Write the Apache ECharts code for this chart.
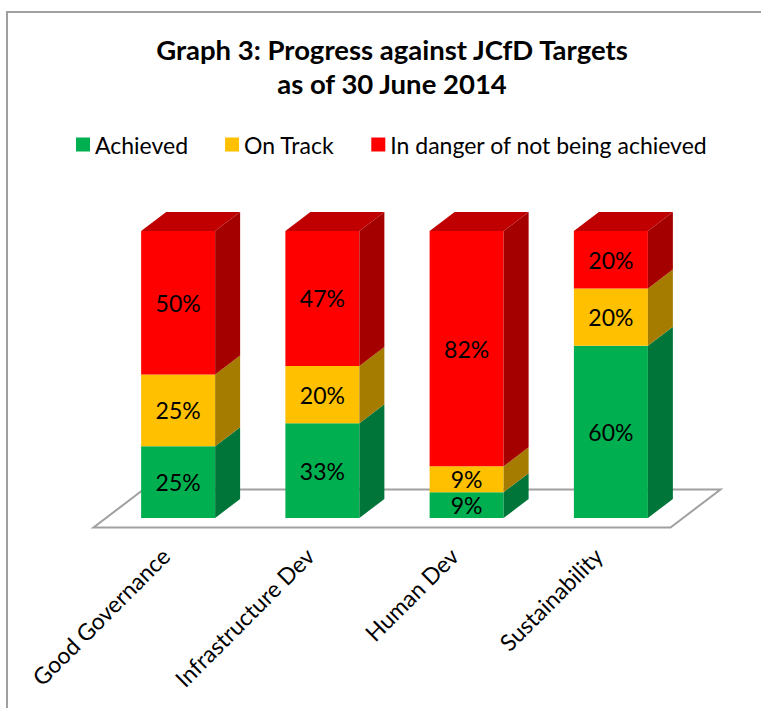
<!DOCTYPE html>
<html>
<head>
<meta charset="utf-8">
<script src="https://cdn.jsdelivr.net/npm/echarts@6/dist/echarts.min.js"></script>
<style>
  html, body { margin: 0; padding: 0; background: #fff; }
  #main { width: 761px; height: 708px; }
</style>
</head>
<body>
<div id="main"></div>
<script>
// data
var categories = ['Good Governance', 'Infrastructure Dev', 'Human Dev', 'Sustainability'];
var achieved = [25, 33, 9, 60];
var onTrack = [25, 20, 9, 20];
var inDanger = [50, 47, 82, 20];
var seriesNames = ['Achieved', 'On Track', 'In danger of not being achieved'];

// look of the 3d bars
var BAR_RATIO = 0.513;
var DX = 25, DY = 19;
var FONT = 'Lato, "Noto Sans", sans-serif';

function stackRows(vals, below) {
    var rows = [];
    for (var i = 0; i < vals.length; i++) {
        var base = 0;
        for (var k = 0; k < below.length; k++) base += below[k][i];
        rows.push([i, base, vals[i]]);
    }
    return rows;
}

function makeRender(front, side, top, isTop) {
    return function (params, api) {
        var i = api.value(0);
        var base = api.value(1), v = api.value(2);
        var p0 = api.coord([i, base]);
        var p1 = api.coord([i, base + v]);
        var bw = api.size([1, 0])[0] * BAR_RATIO;
        var x0 = p0[0] - bw / 2, x1 = p0[0] + bw / 2;
        var yb = p0[1], yt = p1[1];
        var kids = [
            { type: 'rect', shape: { x: x0, y: yt, width: bw, height: yb - yt }, style: { fill: front } },
            { type: 'polygon', shape: { points: [[x1, yb], [x1 + DX, yb - DY], [x1 + DX, yt - DY], [x1, yt]] }, style: { fill: side } }
        ];
        if (isTop) {
            kids.push({ type: 'polygon', shape: { points: [[x0, yt], [x0 + DX, yt - DY], [x1 + DX, yt - DY], [x1, yt]] }, style: { fill: top } });
        }
        kids.push({
            type: 'text',
            style: {
                text: v + '%', x: p0[0], y: (yb + yt) / 2,
                align: 'center', verticalAlign: 'middle',
                fill: '#000', font: '23px ' + FONT
            }
        });
        return { type: 'group', children: kids };
    };
}

// floor under the bars, built from the grid rectangle
function renderFloor(params, api) {
    var cs = params.coordSys;
    var y0 = api.coord([0, 0])[1];
    var fx = -DX / 2, fy = DY / 2, bx = DX * 1.5, by = -DY * 1.5;
    var l = cs.x, r = cs.x + cs.width;
    return {
        type: 'polygon',
        shape: { points: [[l + fx, y0 + fy], [r + fx, y0 + fy], [r + bx, y0 + by], [l + bx, y0 + by]] },
        style: { fill: 'none', stroke: '#A0A0A0', lineWidth: 2 }
    };
}

var myChart = echarts.init(document.getElementById('main'), null, { renderer: 'svg' });
var option = {
    backgroundColor: '#fff',
    animation: false,
    title: {
        text: 'Graph 3: Progress against JCfD Targets\nas of 30 June 2014',
        left: 387,
        top: 27,
        textAlign: 'center',
        textStyle: { fontFamily: FONT, fontWeight: 'bold', fontSize: 27.5, lineHeight: 34, color: '#000' }
    },
    legend: {
        data: seriesNames,
        left: 76,
        top: 133,
        padding: 0,
        icon: 'rect',
        itemWidth: 14,
        itemHeight: 14,
        itemGap: 37,
        textStyle: { fontFamily: FONT, fontSize: 23, color: '#000' }
    },
    graphic: [{
        type: 'rect',
        shape: { x: 7, y: 12, width: 900, height: 900 },
        style: { fill: 'none', stroke: '#A0A0A0', lineWidth: 2 },
        z: -10
    }],
    grid: { left: 106, right: 78, top: 231, bottom: 190 },
    xAxis: {
        type: 'category',
        data: categories,
        axisLine: { show: false },
        axisTick: { show: false },
        axisLabel: {
            rotate: 45, margin: 21, interval: 0, padding: [0, 18, 0, 0],
            fontFamily: FONT, fontSize: 23, color: '#000'
        }
    },
    yAxis: { type: 'value', min: 0, max: 100, show: false, splitLine: { show: false } },
    series: [
        {
            type: 'custom', name: 'floor', renderItem: renderFloor, data: [[0, 0]], z: 1, silent: true
        },
        {
            type: 'custom', name: seriesNames[0], z: 2,
            itemStyle: { color: '#00B050' },
            renderItem: makeRender('#00B050', '#00753A', '#008A40', false),
            encode: { x: 0, y: [1, 2] },
            data: stackRows(achieved, [])
        },
        {
            type: 'custom', name: seriesNames[1], z: 3,
            itemStyle: { color: '#FFC000' },
            renderItem: makeRender('#FFC000', '#A57C00', '#C09000', false),
            encode: { x: 0, y: [1, 2] },
            data: stackRows(onTrack, [achieved])
        },
        {
            type: 'custom', name: seriesNames[2], z: 4,
            itemStyle: { color: '#FF0000' },
            renderItem: makeRender('#FF0000', '#A50000', '#C00000', true),
            encode: { x: 0, y: [1, 2] },
            data: stackRows(inDanger, [achieved, onTrack])
        }
    ]
};
myChart.setOption(option);
</script>
</body>
</html>
